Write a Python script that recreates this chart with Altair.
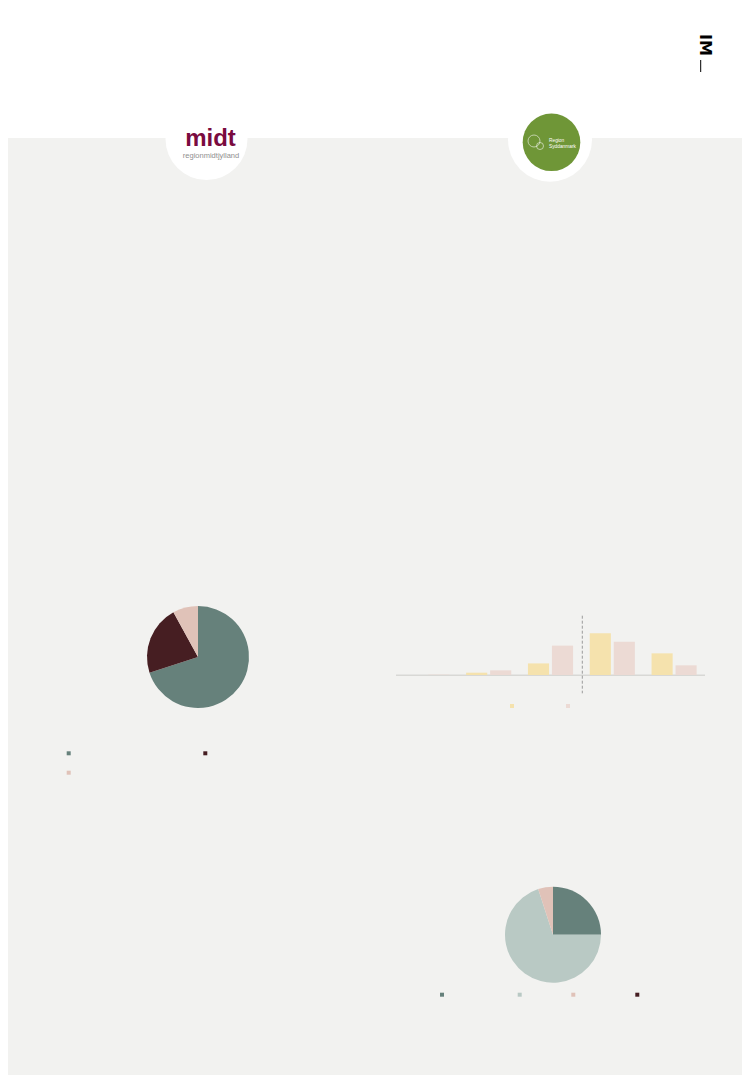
import altair as alt
import pandas as pd

# ---------------- data ----------------
pie1_cats = ["A", "B", "C"]
pie1_vals = [70, 22, 8]
pie1_colors = ["#66817b", "#461e22", "#e0c2b8"]

bar_groups = ["1", "2", "3", "4", "5"]
bar_series = ["S1", "S2"]
bar_s1 = [0, 3, 15, 54, 28]
bar_s2 = [0.5, 6, 38, 43, 12.5]
bar_colors = ["#f5e2ad", "#ecdad4"]

pie2_cats = ["A", "B", "C", "D"]
pie2_vals = [25, 70, 5, 0]
pie2_colors = ["#66817b", "#b9c9c4", "#e0c2b8", "#461e22"]

FONT = "Liberation Sans, Arial, sans-serif"

# ---------------- helpers ----------------
O = 8  # page margin
def X(v):
    return alt.value(v - O)
def Y(v):
    return alt.value(v - O)
def disc(r):
    # Vega symbol size is the square of the symbol's diameter
    return (2 * r) ** 2

one = pd.DataFrame({"a": [0]})
base = alt.Chart(one)

layers = []

# background panel
layers.append(base.mark_rect(color="#f2f2f0").encode(
    x=alt.value(0), x2=alt.value(734), y=Y(138), y2=alt.value(1067)))

# logo circles
layers.append(base.mark_circle(color="white", opacity=1, size=disc(41)).encode(x=X(206.5), y=Y(139)))
layers.append(base.mark_circle(color="white", opacity=1, size=disc(42)).encode(x=X(550), y=Y(139.7)))
layers.append(base.mark_circle(color="#6f9637", opacity=1, size=disc(28.8)).encode(x=X(551.5), y=Y(142.3)))
layers.append(base.mark_point(shape="circle", filled=False, color="white", strokeWidth=0.8, size=disc(6)).encode(x=X(534), y=Y(141)))
layers.append(base.mark_point(shape="circle", filled=False, color="white", strokeWidth=0.8, size=disc(3.5)).encode(x=X(540), y=Y(146)))
layers.append(base.mark_text(text="Region", color="white", fontSize=4.8, align="left", baseline="alphabetic", font=FONT).encode(x=X(549), y=Y(141.5)))
layers.append(base.mark_text(text="Syddanmark", color="white", fontSize=4.8, align="left", baseline="alphabetic", font=FONT).encode(x=X(549), y=Y(148)))

# midt logo
layers.append(base.mark_text(text="midt", color="#7a0b3f", fontSize=24, fontWeight="bold", font=FONT, align="center", baseline="alphabetic").encode(x=X(210.5), y=Y(145.5)))
layers.append(base.mark_text(text="regionmidtjylland", color="#8f8f8f", fontSize=7.5, font=FONT, align="center", baseline="alphabetic").encode(x=X(211), y=Y(157.5)))

# IM mark
layers.append(base.mark_text(text="IM", color="black", fontSize=16, fontWeight="bold", angle=90, align="left", baseline="alphabetic", font="DejaVu Sans").encode(x=X(699.5), y=Y(34)))
layers.append(base.mark_rule(color="black", strokeWidth=1).encode(x=X(700.7), y=Y(60), y2=Y(72)))

# left pie
df_p1 = pd.DataFrame({"cat": pie1_cats, "val": pie1_vals, "ord": list(range(len(pie1_cats)))})
layers.append(alt.Chart(df_p1).mark_arc(radius=51).encode(
    theta=alt.Theta("val:Q", stack=True),
    order=alt.Order("ord:Q"),
    color=alt.Color("cat:N", scale=alt.Scale(domain=pie1_cats, range=pie1_colors), legend=None),
    x=X(198), y=Y(657)))

# bar chart
df_b = pd.DataFrame({
    "group": bar_groups * 2,
    "series": [bar_series[0]] * 5 + [bar_series[1]] * 5,
    "value": bar_s1 + bar_s2,
})
layers.append(base.mark_rule(color="#d8d8d5", strokeWidth=1.5).encode(x=X(396), x2=X(705), y=Y(675.3)))
layers.append(alt.Chart(df_b).mark_bar().encode(
    x=alt.X("group:O", sort=bar_groups, axis=None,
            scale=alt.Scale(range=[396 - O, 705 - O], paddingInner=0.27, paddingOuter=0.135)),
    xOffset=alt.XOffset("series:N", sort=bar_series, scale=alt.Scale(paddingInner=0.12, paddingOuter=0)),
    y=alt.Y("value:Q", axis=None, scale=alt.Scale(domain=[0, 60], range=[675 - O, 675 - O - 46.4])),
    color=alt.Color("series:N", scale=alt.Scale(domain=bar_series, range=bar_colors), legend=None),
))
layers.append(base.mark_rule(color="#9a9a9a", strokeWidth=1, strokeDash=[3, 2]).encode(x=X(582.3), y=Y(615.7), y2=Y(693.3)))

# bottom pie
df_p2 = pd.DataFrame({"cat": pie2_cats, "val": pie2_vals, "ord": list(range(len(pie2_cats)))})
layers.append(alt.Chart(df_p2).mark_arc(radius=48).encode(
    theta=alt.Theta("val:Q", stack=True),
    order=alt.Order("ord:Q"),
    color=alt.Color("cat:N", scale=alt.Scale(domain=pie2_cats, range=pie2_colors), legend=None),
    x=X(553), y=Y(934.7)))

# legend swatches
swatches = [
    (68.7, 753.3, pie1_colors[0]), (205.3, 753.3, pie1_colors[1]), (68.7, 772.7, pie1_colors[2]),
    (512, 706, bar_colors[0]), (568, 706, bar_colors[1]),
    (442, 994.7, pie2_colors[0]), (519.7, 994.7, pie2_colors[1]), (573.3, 994.7, pie2_colors[2]), (637.3, 994.7, pie2_colors[3]),
]
for sx, sy, c in swatches:
    layers.append(base.mark_square(color=c, opacity=1, size=16).encode(x=X(sx), y=Y(sy)))

chart = alt.layer(*layers).resolve_scale(
    color="independent", theta="independent", x="independent", y="independent"
).properties(width=734, height=1067, padding=0, autosize="none", background="white").configure_view(stroke=None)

chart.save("out.html", embed_options={"renderer": "svg", "actions": False})
